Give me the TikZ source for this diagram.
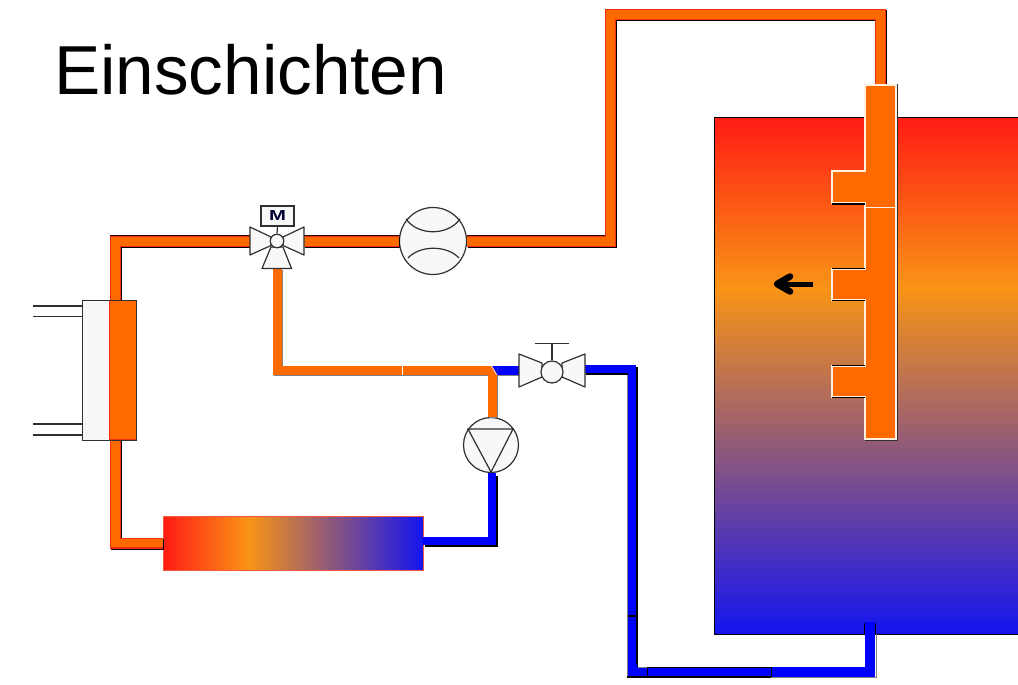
\documentclass[tikz,border=0pt]{standalone}
\usepackage{fontspec}
\usetikzlibrary{calc}
\setmainfont{Liberation Sans}
\definecolor{hotpipe}{HTML}{FF6A00}
\definecolor{hotedge}{HTML}{F03010}
\definecolor{coldpipe}{HTML}{0000FF}
\definecolor{partfill}{HTML}{F8F8F8}
\definecolor{partline}{HTML}{303030}
\definecolor{gradred}{HTML}{FF1C14}
\definecolor{gradorange}{HTML}{F99416}
\definecolor{gradblue}{HTML}{1414F0}
\pgfdeclarehorizontalshading{radgrad}{100bp}{color(0bp)=(gradred); color(25bp)=(gradred); color(41.4bp)=(gradorange); color(75bp)=(gradblue); color(100bp)=(gradblue)}
\pgfdeclareverticalshading{tankgrad}{100bp}{color(0bp)=(gradblue); color(25bp)=(gradblue); color(58.5bp)=(gradorange); color(75bp)=(gradred); color(100bp)=(gradred)}
\tikzset{
  flowpipe/.style={draw=hotedge,line width=11pt,
    preaction={draw=black,line width=11pt,transform canvas={xshift=1.1pt,yshift=-1.1pt}},
    postaction={draw=hotpipe,line width=8.6pt}},
  mixpipe/.style={draw=hotpipe,line width=9pt,
    preaction={draw=gray,line width=9pt,transform canvas={xshift=1pt,yshift=-1pt}}},
  coldrun/.style={draw=coldpipe,line width=8pt,
    preaction={draw=black,line width=8pt,transform canvas={xshift=2.4pt,yshift=-2.4pt}}},
  coldplain/.style={draw=coldpipe,line width=10pt},
  part/.style={draw=partline,fill=partfill,line width=1.2pt,line join=round},
  ring/.style={part,circle,inner sep=0pt},
  wire/.style={draw=partline,line width=1.2pt},
  edgeblack/.style={draw=black,line width=1.2pt},
  edgelight/.style={draw=white!88!orange,line width=1.2pt},
  topedge/.style={draw=black!80!red,line width=0.9pt},
}
\begin{document}
\begin{tikzpicture}[x=1pt,y=-1pt]
\useasboundingbox (0,0) rectangle (1018,685);
\fill[white] (0,0) rectangle (1018,685);

% title
\node[anchor=base west,inner sep=0pt,font=\fontsize{69.3}{70}\selectfont] (title) at (54,95) {Einschichten};

% named points of the pipe runs
\coordinate (c1) at (115.5,241.5);
\coordinate (c2) at (115.5,543);
\coordinate (c3) at (610.5,241.5);
\coordinate (c4) at (610.5,14.5);
\coordinate (c5) at (880.5,14.5);
\coordinate (c6) at (880.5,85);
\coordinate (c7) at (277,370.5);
\coordinate (c8) at (492.5,370.5);
\coordinate (c9) at (492,541);
\coordinate (c10) at (632,369);
\coordinate (c11) at (632.5,672);
\coordinate (c12) at (870,672);

% tank
\node[inner sep=0pt,minimum width=305pt,minimum height=517pt,shading=tankgrad,anchor=north west] (tank) at (714,117) {};
\draw[draw=black,line width=1pt] (1020,117) -- (714,117) -- (714,634) -- (1020,634);

% radiator
\node[inner sep=0pt,minimum width=260pt,minimum height=54pt,shading=radgrad,draw=hotedge!80!white,line width=0.8pt,anchor=north west] (rad) at (163,516) {};

% exchanger
\node[part,draw=black,minimum width=54pt,minimum height=140pt,inner sep=0pt,anchor=north west] (hx) at (82,300) {};
\coordinate (hxtop) at (115.5,300);
\coordinate (hxbot) at (115.5,440);

% named parts
\node[ring,minimum size=67pt] (meter) at (433,241) {};
\node[ring,minimum size=55pt] (pump) at (491,445) {};
\coordinate (v3l) at (250,241.5);
\coordinate (v3r) at (304,241.5);
\coordinate (v3b) at (277,269);
\coordinate (vl) at (519,370.5);
\coordinate (vr) at (585,369);

% hot pipes
\draw[flowpipe] (hxtop) -- (c1) -- (v3l);
\draw[flowpipe] (v3r) -- (c3 -| meter.west);
\draw[flowpipe] (c3 -| meter.east) -- (c3) -- (c4) -- (c5) -- (c6);
\draw[flowpipe] (hxbot) -- (c2) -- (rad.west |- c2);
\draw[topedge] (110,235.8) -- (250,235.8);
\draw[topedge] (304,235.8) -- (400,235.8);
\draw[topedge] (467,235.8) -- (605,235.8);

% mixed pipes
\draw[draw=coldpipe,line width=9pt,preaction={draw=gray,line width=9pt,transform canvas={xshift=1pt,yshift=-1pt}}] (c8) -- (vl);
\draw[mixpipe] (v3b) -- (c7) -- (c8) -- (pump.north -| c8);
\fill[coldpipe] (492,366) -- (497.5,375) -- (497.5,366) -- cycle;
\draw[white,line width=1pt] (402.5,366) -- (402.5,375);
\draw[white!85!orange,line width=0.8pt] (491.5,366) -- (496.5,374.5);

% cold pipes
\draw[coldrun] ($(rad.east |- c9)+(-1,0)$) -- (c9) -- (pump.south -| c9);
\draw[coldrun] ($(vr)+(-1,0)$) -- (c10) -- ($(c10)+(0,298)$);
\draw[coldplain] ($(c11)+(0,-8)$) -- (c11) -- (c12) -- ($(c12)+(0,-50)$);
\draw[gray,line width=0.8pt] (627.2,375) -- (627.2,677.5) -- (876.5,677.5) -- (876.5,634);
\draw[edgeblack] (637.8,375) -- (637.8,667);
\draw[gray,line width=0.8pt] (637.8,667) -- (647,667);
\draw[draw=black,line width=1pt] (647,667) -- (771,667);
\draw[draw=black,line width=1.6pt] (627,677) -- (771,677);
\draw[edgeblack] (627.5,616) -- (637.5,616);
\draw[edgeblack,line width=1pt] (647,667) -- (647,677);
\draw[edgeblack,line width=1pt] (771,667) -- (771,677);
\draw[edgeblack] (864.5,623) -- (864.5,634);
\draw[edgeblack] (875.5,623) -- (875.5,634);

% exchanger hot part and stubs
\fill[hotpipe] (109,301) rectangle (136,440);
\draw[hotedge,line width=0.8pt] (109,440) -- (109,300.5) -- (135.5,300.5);
\draw[hotedge,line width=0.8pt] (109,439) -- (135.5,439);
\draw[partline,line width=0.9pt] (82,300) rectangle (136,440);
\draw[wire] (33,306) -- (hx.west |- 0,306);
\draw[wire] (33,316.5) -- (hx.west |- 0,316.5);
\draw[wire] (33,424) -- (hx.west |- 0,424);
\draw[wire] (33,435) -- (hx.west |- 0,435);

% distributor
\draw[edgelight,fill=hotpipe] (865,85) -- (896,85) -- (896,439) -- (865,439) -- (865,397) -- (832,397) -- (832,366) -- (865,366) -- (865,300) -- (832,300) -- (832,269) -- (865,269) -- (865,203) -- (832,203) -- (832,171) -- (865,171) -- cycle;
\draw[edgelight] (865,207.5) -- (896,207.5);
\draw[draw=partline,line width=1.2pt] (897.3,84) -- (897.3,440.5) -- (865,440.5);
\draw[edgeblack] (832,204) -- (865,204);
\draw[edgeblack] (832,268.3) -- (865,268.3);
\draw[edgeblack] (832,300.8) -- (865,300.8);
\draw[edgeblack] (832,365.3) -- (865,365.3);
\draw[edgeblack] (832,397.8) -- (865,397.8);

% arrow
\draw[black,line width=5pt,line cap=butt] (813,284) -- (780,284);
\draw[black,line width=6.5pt,line join=round,line cap=round] (790,276.5) -- (777,284) -- (790,291.5);

% meter arcs
\draw[wire] (406,219) .. controls (418,236) and (448,236) .. (460,219);
\draw[wire] (408,258) .. controls (420,245) and (447,245) .. (459,258);

% pump triangle
\draw[wire] (468,429) -- (513,429) -- (491,472) -- cycle;

% three-way valve
\draw[part] (250,227) -- (250,255) -- (271,245.5) -- (271,237) -- cycle;
\draw[part] (304,227) -- (304,255) -- (283,245.5) -- (283,237) -- cycle;
\draw[part] (262,268.5) -- (291.5,268.5) -- (283,247) -- (271,247) -- cycle;
\node[ring,minimum size=13.5pt] (v3c) at (277,241) {};
\node[part,line join=miter,minimum width=33pt,minimum height=20pt,inner sep=0pt,font=\bfseries\fontsize{14.5}{15}\selectfont,text=black!80!blue] (motor) at (277.5,216) {\scalebox{1.4}[1]{M}};
\draw[wire] (motor.south) -- (v3c.north);

% stop valve
\draw[part] (519,354) -- (519,387) -- (542,377) -- (542,363) -- cycle;
\draw[part] (585,354) -- (585,387) -- (562,377) -- (562,363) -- cycle;
\node[ring,minimum size=22pt] (vc) at (552,372) {};
\coordinate (vtop) at (552,343.5);
\draw[wire] (vc.north) -- (vtop);
\draw[wire] (535,343.5) -- (569,343.5);
\end{tikzpicture}
\end{document}
